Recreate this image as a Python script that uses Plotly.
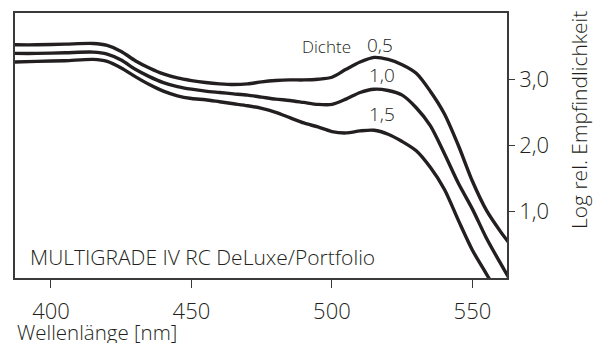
import plotly.graph_objects as go

# ---- data ----
wavelength_nm = [387, 395, 405, 415, 420, 425, 430, 435, 440, 445, 450, 455, 460, 465,
                 470, 475, 480, 485, 490, 495, 500, 505, 510, 515, 520, 525, 530, 535,
                 540, 545, 550, 555, 560, 563]
dichte_05 = [3.52, 3.52, 3.53, 3.54, 3.51, 3.42, 3.28, 3.17, 3.08, 3.02, 2.98, 2.95, 2.93, 2.92,
             2.93, 2.96, 2.98, 2.99, 2.99, 3.00, 3.03, 3.15, 3.26, 3.33, 3.30, 3.22, 3.09, 2.82,
             2.48, 2.00, 1.46, 1.02, 0.70, 0.53]
dichte_10 = [3.39, 3.39, 3.40, 3.41, 3.38, 3.29, 3.15, 3.04, 2.95, 2.89, 2.85, 2.82, 2.80, 2.78,
             2.76, 2.73, 2.70, 2.68, 2.65, 2.62, 2.62, 2.70, 2.80, 2.85, 2.83, 2.76, 2.57, 2.30,
             1.88, 1.43, 1.04, 0.60, 0.22, 0.00]
dichte_15 = [3.26, 3.27, 3.28, 3.30, 3.27, 3.17, 3.04, 2.92, 2.82, 2.75, 2.71, 2.69, 2.66, 2.63,
             2.60, 2.56, 2.50, 2.42, 2.34, 2.28, 2.21, 2.19, 2.22, 2.23, 2.17, 2.06, 1.92, 1.67,
             1.34, 0.87, 0.42, 0.06, -0.30, -0.50]
series_labels = ["0,5", "1,0", "1,5"]
x_tick_vals = [400, 450, 500, 550]
x_tick_text = ["400", "450", "500", "550"]
y_tick_vals = [1, 2, 3]
y_tick_text = ["1,0", "2,0", "3,0"]

INK = "#231f20"
AX = "#3a3a3a"
FONT = "Open Sans"

fig = go.Figure()
for vals in (dichte_05, dichte_10, dichte_15):
    fig.add_trace(go.Scatter(x=wavelength_nm, y=vals, mode="lines",
                             line=dict(color=INK, width=3.4, shape="spline", smoothing=0.8),
                             showlegend=False, hoverinfo="skip"))

fig.update_layout(
    width=605, height=343,
    margin=dict(l=15, r=98, t=13, b=65, autoexpand=False),
    paper_bgcolor="white", plot_bgcolor="white",
    font=dict(family=FONT, color=INK, weight=300),
)
fig.update_xaxes(range=[387.2, 562.3], showgrid=False, zeroline=False,
                 showline=True, mirror=True, linecolor=AX, linewidth=1.6,
                 ticks="outside", ticklen=8, tickwidth=1.4, tickcolor=AX,
                 tickvals=x_tick_vals, ticktext=x_tick_text, automargin=False,
                 ticklabelstandoff=5,
                 tickfont=dict(family=FONT, size=22, color=INK, weight=300))
fig.update_yaxes(range=[0, 4], side="right", showgrid=False, zeroline=False,
                 showline=True, mirror=True, linecolor=AX, linewidth=1.6,
                 ticks="outside", ticklen=6, tickwidth=1.4, tickcolor=AX,
                 tickvals=y_tick_vals, ticktext=y_tick_text, automargin=False,
                 tickfont=dict(family=FONT, size=22, color=INK, weight=300))

annots = [
    dict(text="Wellenlänge [nm]", xref="paper", yref="paper", x=(15-15)/492, y=-54/265,
         xanchor="left", yanchor="middle", font=dict(size=20.5)),
    dict(text="Log rel. Empfindlichkeit", xref="paper", yref="paper", x=(579-15)/492,
         y=(278-120)/265, textangle=-90, xanchor="center", yanchor="middle",
         font=dict(size=21)),
    dict(text="MULTIGRADE IV RC DeLuxe/Portfolio", xref="paper", yref="paper",
         x=(28-15)/492, y=(278-257)/265, xanchor="left", yanchor="middle",
         font=dict(size=21)),
    dict(text="Dichte", x=507.6, y=3.50, xanchor="right", yanchor="middle",
         font=dict(size=17)),
    dict(text=series_labels[0], x=517.1, y=3.52, xanchor="center", yanchor="middle",
         font=dict(size=19)),
    dict(text=series_labels[1], x=517.8, y=3.06, xanchor="center", yanchor="middle",
         font=dict(size=19)),
    dict(text=series_labels[2], x=517.8, y=2.47, xanchor="center", yanchor="middle",
         font=dict(size=19)),
]
for a in annots:
    a.setdefault("showarrow", False)
    a["font"].update(family=FONT, color=INK, weight=300)
    fig.add_annotation(**a)

fig.write_html("out.html", config={"displayModeBar": False},
               post_script="document.body.style.margin='0px';")
